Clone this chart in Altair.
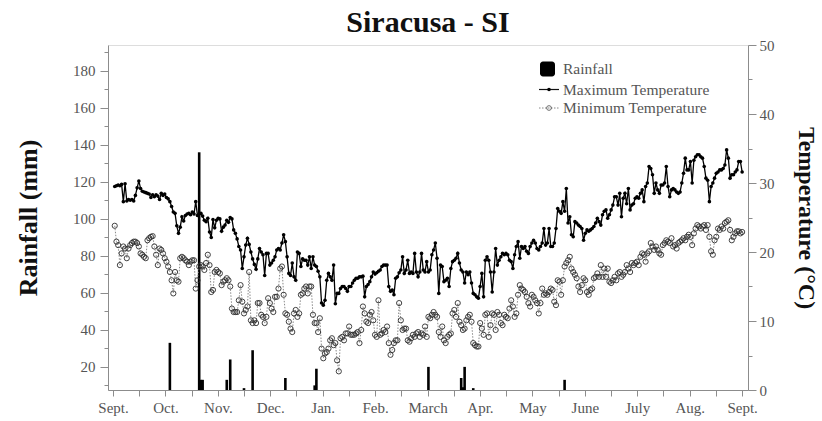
import json
import altair as alt
import pandas as pd

# Daily maximum temperature (°C), 1 Sept. -> 31 Aug.
tmax_autumn = [
    29.5, 29.6, 29.7, 29.6, 29.8, 27.3, 29.9, 27.4, 27.6, 27.5,
    27.6, 27.4, 28.2, 29.3, 30.3, 29.2, 28.8, 28.7, 28.6, 28.5,
    28.4, 27.9, 28.3, 28.0, 28.3, 28.1, 27.6, 28.5, 28.2, 28.4,
    27.9, 27.7, 27.3, 26.6, 25.8, 25.6, 23.8, 22.7, 23.6, 25.1,
    24.5, 25.3, 25.5, 25.6, 25.4, 25.8, 25.5, 27.3, 25.3, 25.5,
    25.6, 25.2, 24.6, 24.4, 24.9, 22.9, 22.1, 24.7, 23.5, 24.6,
    24.9, 24.8, 23.0, 23.6, 23.9, 24.6, 24.3, 25.0, 24.8, 23.2,
    22.7,
    21.9, 20.8, 20.3, 17.6, 19.3, 21.0, 22.0, 21.1, 20.0, 19.0,
    18.2, 17.5, 19.0, 20.5, 20.0, 19.6, 16.6, 19.8, 19.8, 18.1,
]
tmax_winter = [
    18.4, 18.8, 19.3, 20.3, 20.5, 20.3, 21.3, 22.5, 21.5, 19.3,
    16.9, 16.6, 18.4, 16.4, 15.9, 20.0, 19.8, 17.9, 19.0, 18.8,
    18.8, 18.1, 19.3, 17.6, 19.3, 18.1, 17.9, 17.2, 16.4, 12.6,
    12.3, 13.0, 15.9, 16.9, 16.4, 15.9, 18.1, 12.5, 14.0, 14.0,
    14.7, 15.0, 15.0, 14.7, 14.3, 15.0, 15.0, 15.5, 15.9, 16.2,
    16.2, 16.4, 16.4, 16.5,
    13.5, 15.0, 15.3, 15.7, 16.4, 17.1, 16.8, 17.0, 17.2, 17.4,
    17.9, 18.1, 18.1, 18.1, 15.0, 14.3, 14.5, 13.8, 16.2, 16.4,
    17.0, 17.4, 19.3, 16.9, 17.4, 18.8, 16.9, 17.1, 16.9, 19.8,
]
tmax_spring = [
    17.1, 16.4, 17.1, 19.8, 17.4, 17.1, 18.6, 17.1, 17.4, 19.6,
    20.3, 21.3, 19.1, 14.0, 18.1, 17.9, 15.7, 15.9, 16.2, 15.0,
    17.6, 18.6, 18.8, 19.1, 19.8, 18.4, 17.4, 17.1, 15.5, 17.1,
    16.7, 17.1, 15.5, 14.0, 13.8, 13.5, 13.3, 15.0, 16.9, 13.5,
    18.8, 19.3,
    18.8, 17.1, 14.2, 17.1, 20.5, 18.1, 18.8, 19.3, 19.8, 19.6,
    19.8, 19.6, 18.8, 18.6, 17.6, 19.6, 20.8, 21.5, 19.1, 20.8,
    20.5, 20.8, 20.1, 19.8, 20.8, 21.3, 21.7, 21.3, 20.5, 20.3,
    20.8, 21.3, 23.4, 21.0, 21.3, 23.4, 20.8, 20.8, 21.3, 23.4,
]
tmax_summer = [
    26.3, 25.9, 25.6, 27.3, 25.9, 29.2, 24.2, 25.1, 22.5, 22.2,
    24.4, 24.2, 23.9, 23.7, 23.4, 21.7, 22.7, 23.2, 23.0, 23.2,
    23.4, 23.7, 24.2, 24.9, 24.4, 23.9, 25.4, 25.9, 26.1, 24.9,
    25.4, 26.1, 26.8, 28.0,
    28.0, 26.8, 28.5, 25.1, 27.8, 28.5, 27.0, 29.2, 26.1, 26.8,
    27.0, 27.8, 28.0, 27.8, 28.5, 29.0, 27.3, 29.5, 30.0, 32.4,
    32.1, 31.2, 28.5, 30.0, 29.0, 28.5, 29.7, 29.7, 30.0, 32.4,
    29.5, 28.0, 29.0, 29.2, 29.0, 28.7, 28.5, 28.7, 30.0, 31.4,
    33.6, 31.9, 31.9, 33.1, 30.0, 33.3, 33.8, 34.1, 34.1, 33.8,
    33.6, 32.4, 30.7, 30.4, 27.3, 29.5, 30.0, 30.7, 31.4, 31.6,
    31.9, 31.9, 32.1, 32.6, 34.8, 33.6, 30.7, 31.2, 31.2, 31.6,
    31.9, 33.1, 33.1, 31.6,
]

# Daily minimum temperature (°C), same days
tmin_autumn = [
    23.8, 21.5, 21.0, 18.1, 19.8, 20.8, 20.5, 19.1, 20.5, 21.0,
    21.3, 21.5, 21.5, 21.3, 20.8, 19.8, 19.6, 19.3, 19.1, 21.7,
    22.0, 22.2, 22.3, 20.8, 19.6, 18.1, 20.5, 20.3, 19.8, 19.1,
    18.6, 17.9, 17.1, 15.9, 14.0, 17.1, 15.9, 15.7, 19.1, 19.3,
    19.1, 18.8, 18.6, 18.1, 18.6, 18.8, 18.8, 14.7, 15.9, 17.9,
    18.1, 17.9, 17.4, 18.4, 19.6, 18.1, 14.2, 14.5, 17.1, 17.4,
    17.1, 16.9, 15.2, 15.7, 15.9, 16.2, 15.9, 15.0, 11.8, 11.3,
    11.3,
    11.3, 13.0, 15.2, 12.8, 11.1, 11.6, 12.1, 17.1, 10.1, 9.7,
    10.1, 9.7, 12.6, 12.6, 10.9, 10.6, 9.7, 10.6, 13.3, 12.6,
]
tmin_winter = [
    11.8, 11.3, 13.5, 13.5, 14.7, 17.6, 17.9, 13.8, 11.1, 10.9,
    9.9, 8.9, 8.4, 11.1, 11.6, 10.6, 11.1, 13.8, 14.0, 14.7,
    15.0, 14.0, 15.0, 15.0, 10.9, 9.7, 9.7, 8.4, 10.4, 6.0,
    4.6, 5.3, 5.5, 6.0, 7.2, 7.5, 6.5, 6.8, 4.3, 2.7,
    7.5, 7.7, 7.2, 8.2, 8.2, 9.2, 8.0, 8.0, 8.0, 8.2,
    8.4, 6.8, 8.7, 12.1,
    11.1, 9.9, 9.7, 10.9, 11.3, 10.1, 8.0, 7.7, 13.0, 8.0,
    8.2, 8.7, 8.4, 9.2, 6.8, 5.1, 5.8, 6.8, 7.2, 7.2,
    12.6, 10.1, 8.7, 8.9, 8.9, 7.2, 7.0, 7.5, 8.0, 7.7,
]
tmin_spring = [
    8.2, 8.4, 7.7, 8.2, 8.0, 9.2, 7.7, 10.6, 10.4, 10.9,
    11.3, 10.9, 10.6, 8.4, 7.7, 9.2, 7.2, 6.8, 7.7, 8.0,
    8.2, 11.1, 11.6, 10.6, 12.6, 9.9, 9.4, 8.7, 8.9, 10.1,
    10.6, 10.9, 9.9, 6.8, 6.5, 6.3, 6.3, 9.7, 8.9, 8.0,
    10.9, 11.1,
    7.7, 9.4, 11.1, 10.9, 8.7, 11.3, 10.9, 9.7, 9.4, 10.9,
    10.6, 10.4, 11.8, 13.0, 12.1, 10.6, 11.1, 13.8, 15.2, 14.7,
    14.5, 14.2, 13.5, 12.6, 12.1, 13.8, 13.5, 13.0, 12.6, 11.1,
    12.6, 14.7, 13.8, 14.0, 13.8, 14.2, 14.7, 14.5, 12.8, 12.3,
]
tmin_summer = [
    15.9, 15.7, 13.8, 15.9, 17.9, 18.4, 18.8, 19.3, 17.6, 17.1,
    16.7, 16.2, 15.0, 14.2, 15.2, 16.2, 15.9, 14.2, 13.8, 14.5,
    14.7, 16.2, 16.4, 16.9, 16.4, 18.1, 16.4, 17.6, 16.4, 17.6,
    15.7, 15.5, 15.9, 16.4,
    15.9, 16.9, 17.1, 16.4, 16.7, 17.1, 18.1, 17.6, 17.1, 18.4,
    18.1, 18.4, 18.6, 18.1, 19.3, 19.8, 19.6, 18.6, 19.8, 20.1,
    21.3, 20.8, 20.3, 20.8, 20.3, 19.8, 19.6, 21.0, 21.3, 21.7,
    21.5, 21.3, 22.0, 20.8, 21.0, 20.5, 21.3, 21.5, 21.7, 22.0,
    21.7, 22.2, 22.5, 22.2, 21.0, 22.7, 23.4, 23.9, 23.7, 23.4,
    23.7, 23.9, 23.2, 23.9, 22.2, 20.1, 19.6, 21.7, 22.2, 23.4,
    23.2, 23.7, 23.4, 24.2, 24.4, 24.6, 23.2, 21.7, 22.2, 22.7,
    23.0, 23.0, 22.7, 22.9,
]

# Rainy days (day of the period) and daily rainfall (mm)
rain_day = [33, 50, 51, 52, 66, 68, 76, 81, 100, 117, 118, 183, 202, 203, 204, 209, 262]
rain_mm = [33, 136, 13, 13, 13, 24, 8.5, 29, 14, 10, 19, 20, 14, 9, 20, 8.5, 13]

month_labels = ["Sept.", "Oct.", "Nov.", "Dec.", "Jan.", "Feb.", "March",
                "Apr.", "May", "June", "July", "Aug.", "Sept."]

tmax = tmax_autumn + tmax_winter + tmax_spring + tmax_summer
tmin = tmin_autumn + tmin_winter + tmin_spring + tmin_summer
temp_df = pd.DataFrame({"day": list(range(1, len(tmax) + 1)), "tmax": tmax, "tmin": tmin})
rain_df = pd.DataFrame({"day": rain_day, "rain": rain_mm})

FONT = "Liberation Serif"
LABEL_COLOR = "#555555"
AXIS_COLOR = "#8c8c8c"

# x axis: a tick every half month, names under the month ticks
x_ticks = [i * 365 / 24 for i in range(25)]
x_label_expr = (
    f"(round(datum.value * 24 / 365) % 2 === 0) ? "
    f"{json.dumps(month_labels)}[round(datum.value * 12 / 365)] : ''"
)
x_enc = alt.X(
    "day:Q",
    scale=alt.Scale(domain=[0, 365.5], nice=False, zero=False),
    axis=alt.Axis(
        values=x_ticks, labelExpr=x_label_expr, title=None, grid=False,
        tickSize=6, labelPadding=4, labelFlush=False, labelOverlap=False,
        labelFont=FONT, labelFontSize=15, labelColor=LABEL_COLOR,
        domainColor=AXIS_COLOR, tickColor=AXIS_COLOR,
    ),
)

rain_axis = alt.Axis(
    values=list(range(10, 191, 10)),
    labelExpr="datum.value % 20 === 0 ? datum.label : ''",
    tickSize={"condition": {"test": "datum.value % 20 === 0", "value": 8}, "value": 4},
    title="Rainfall (mm)", titleFont=FONT, titleFontSize=26, titleFontWeight="bold",
    titleColor="#111111", titlePadding=31,
    labelFont=FONT, labelFontSize=15, labelColor=LABEL_COLOR, labelPadding=5,
    grid=False, domainColor=AXIS_COLOR, tickColor=AXIS_COLOR,
)
temp_axis = alt.Axis(
    orient="right",
    values=list(range(0, 51, 5)),
    labelExpr="datum.value % 10 === 0 ? datum.label : ''",
    tickSize={"condition": {"test": "datum.value % 10 === 0", "value": 8}, "value": 4},
    title="Temperature (°C)", titleFont=FONT, titleFontSize=24, titleFontWeight="bold",
    titleColor="#111111", titlePadding=19,
    labelFont=FONT, labelFontSize=15, labelColor=LABEL_COLOR, labelPadding=3,
    grid=False, domainColor=AXIS_COLOR, tickColor=AXIS_COLOR,
)
temp_scale = alt.Scale(domain=[0, 50], nice=False, zero=False)

bars = alt.Chart(rain_df).mark_bar(color="black", size=2.6, clip=True).encode(
    x=x_enc,
    y=alt.Y("rain:Q", scale=alt.Scale(domain=[7.5, 194], nice=False, zero=False), axis=rain_axis),
)

temp_base = alt.Chart(temp_df).encode(x=x_enc)
tmin_line = temp_base.mark_line(color="#7a7a7a", strokeWidth=0.9, strokeDash=[1.5, 1.5]).encode(
    y=alt.Y("tmin:Q", scale=temp_scale, axis=temp_axis)
)
tmin_pts = temp_base.mark_point(shape="circle", filled=False, color="#2e2e2e", size=27, strokeWidth=1.0, opacity=0.9).encode(
    y=alt.Y("tmin:Q", scale=temp_scale, axis=temp_axis)
)
tmax_line = temp_base.mark_line(color="#000000", strokeWidth=1.3).encode(
    y=alt.Y("tmax:Q", scale=temp_scale, axis=temp_axis)
)
tmax_pts = temp_base.mark_point(shape="circle", filled=True, color="#000000", size=13, opacity=1).encode(
    y=alt.Y("tmax:Q", scale=temp_scale, axis=temp_axis)
)
temps = alt.layer(tmin_line, tmin_pts, tmax_line, tmax_pts)

# Legend drawn in the upper right part of the plot
one = alt.Data(values=[{}])
leg_square = alt.Chart(one).mark_rect(color="black", cornerRadius=3).encode(
    x=alt.value(432), x2=alt.value(447), y=alt.value(16.5), y2=alt.value(31.5)
)
leg_max_line = alt.Chart(one).mark_rule(color="#111111", strokeWidth=1.2).encode(
    x=alt.value(431), x2=alt.value(451), y=alt.value(44.5)
)
leg_max_dot = alt.Chart(one).mark_point(shape="circle", filled=True, color="black", size=13, opacity=1).encode(
    x=alt.value(441), y=alt.value(44.5)
)
leg_min_line = alt.Chart(one).mark_rule(color="#7a7a7a", strokeWidth=0.9, strokeDash=[1.5, 1.5]).encode(
    x=alt.value(431), x2=alt.value(451), y=alt.value(63)
)
leg_min_dot = alt.Chart(one).mark_point(shape="circle", filled=False, color="#2e2e2e", size=22, strokeWidth=1.0).encode(
    x=alt.value(441), y=alt.value(63)
)
leg_text_style = dict(font=FONT, fontSize=15.5, color=LABEL_COLOR, align="left", baseline="middle")
leg_texts = [
    alt.Chart(one).mark_text(**leg_text_style).encode(
        x=alt.value(455), y=alt.value(yy), text=alt.value(label)
    )
    for label, yy in [("Rainfall", 24), ("Maximum Temperature", 44.5), ("Minimum Temperature", 63)]
]
legend = alt.layer(leg_square, leg_max_line, leg_max_dot, leg_min_line, leg_min_dot, *leg_texts)

chart = (
    alt.layer(bars, temps, legend)
    .resolve_scale(y="independent")
    .properties(
        width=640,
        height=345,
        padding={"left": 108, "top": 45, "right": 74, "bottom": 31},
        autosize=alt.AutoSizeParams(type="none"),
        title=alt.TitleParams(
            "Siracusa - SI", font=FONT, fontSize=30, fontWeight="bold",
            color="#111111", anchor="middle", offset=0,
        ),
    )
    .configure_view(stroke="#a0a0a0", strokeWidth=1)
    .configure(background="white")
)

chart.save("out.html", embed_options={"renderer": "svg", "actions": False})
